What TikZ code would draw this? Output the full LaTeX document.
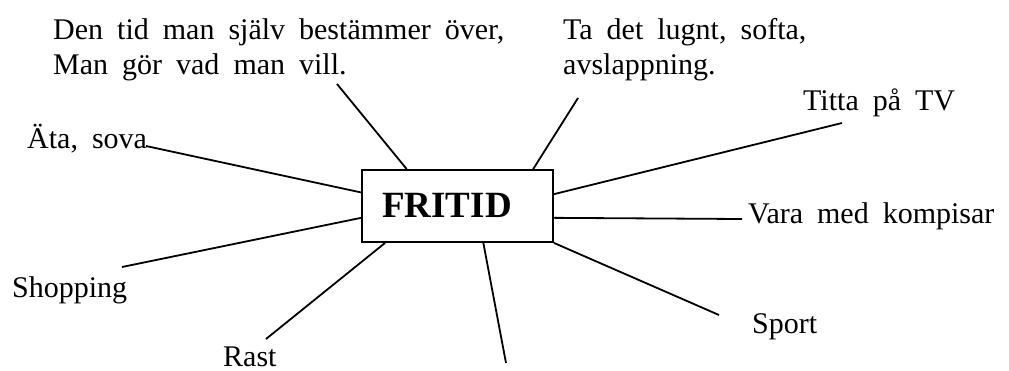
\documentclass[tikz,border=0pt]{standalone}
\usepackage{fontspec}
\setmainfont{Liberation Serif}
\begin{document}
\begin{tikzpicture}[x=1pt,y=-1pt,
  lbl/.style={anchor=base west, inner sep=0pt, font={\fontsize{30}{35}\selectfont\spaceskip=14pt\relax}, align=left},
  conn/.style={line width=1.8pt}]
\useasboundingbox (0,0) rectangle (1009,370);
\node[draw, line width=1.8pt, minimum width=191pt, minimum height=72pt, inner sep=0pt] (box) at (457.5,206) {};
\node[anchor=base, inner sep=0pt, font=\fontsize{37}{40}\selectfont\bfseries] (fritid) at (447,217) {FRITID};
% labels
\node[lbl] (den) at (53,74) {Den tid man själv bestämmer över,\\Man gör vad man vill.};
\node[lbl] (ta) at (563,74) {Ta det lugnt, softa,\\avslappning.};
\node[lbl] (tv) at (803,110) {Titta på TV};
\node[lbl] (ata) at (27,148) {Äta, sova};
\node[lbl] (vara) at (748,223) {Vara med kompisar};
\node[lbl] (shop) at (12,297) {Shopping};
\node[lbl] (rast) at (223,366) {Rast};
\node[lbl] (sport) at (752,333) {Sport};
% free ends
\coordinate (cata) at (146,146);
\coordinate (cden) at (337,84);
\coordinate (cta) at (578,98);
\coordinate (ctv) at (842,123);
\coordinate (cvara) at (742,219);
\coordinate (csport) at (719,315);
\coordinate (cbot) at (506,363);
\coordinate (crast) at (266,339);
\coordinate (cshop) at (122,267);
% connectors
\draw[conn] (box.172.2) -- (cata);
\draw[conn] (box.144) -- (cden);
\draw[conn] (box.26.4) -- (cta);
\draw[conn] (box.7.2) -- (ctv);
\draw[conn] (box.-7.8) -- (cvara);
\draw[conn] (box.south east) -- (csport);
\draw[conn] (box.-55.8) -- (cbot);
\draw[conn] (box.207.1) -- (crast);
\draw[conn] (box.187.8) -- (cshop);
\end{tikzpicture}
\end{document}
